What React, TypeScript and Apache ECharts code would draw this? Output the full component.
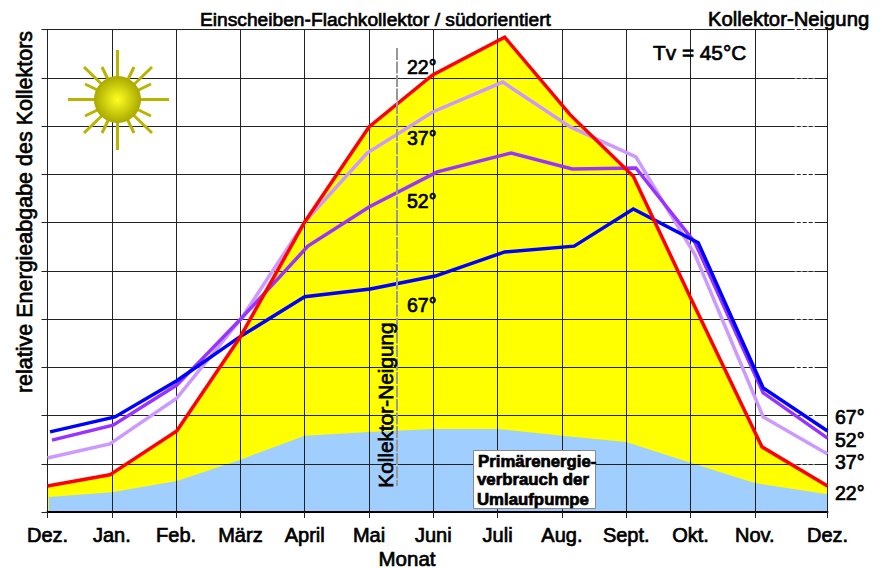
import React, { useEffect, useRef } from "react";
import * as echarts from "echarts";

const monthLabels = ["Dez.", "Jan.", "Feb.", "März", "April", "Mai", "Juni", "Juli", "Aug.", "Sept.", "Okt.", "Nov.", "Dez."];
const monthTicks = [0, 1, 2, 3, 4, 5, 6, 7, 8, 9, 10, 11, 12.13];

const x22 = [0, 0.97, 2.01, 2.99, 4, 5, 5.99, 7.11, 8.13, 9.11, 10, 11.11, 12.13];
const y22 = [5.4, 7.7, 16.8, 36.1, 60.1, 79.8, 90.6, 98.4, 82.3, 69.6, 44.4, 13.5, 5.4];
const x37 = [0, 0.97, 2.01, 3.02, 4, 4.97, 5.99, 7.08, 8.13, 9.15, 10.07, 11.13, 12.13];
const y37 = [11.2, 14.1, 23.6, 40.2, 60.1, 74.4, 82.9, 89.1, 79.8, 73.6, 53.3, 19.7, 12.0];
const x52 = [0.07, 1.02, 2.01, 3.02, 4.05, 5, 6.06, 7.21, 8.16, 9.15, 10.07, 11.13, 12.13];
const y52 = [14.9, 18.0, 26.3, 40.2, 55.1, 63.2, 70.5, 74.4, 71.1, 71.3, 55.8, 24.7, 15.3];
const x67 = [0.04, 1.05, 2.01, 2.99, 4, 5.02, 6.03, 7.11, 8.19, 9.11, 10.12, 11.13, 12.13];
const y67 = [16.6, 19.7, 27.2, 36.3, 44.6, 46.2, 48.9, 53.9, 55.1, 62.8, 55.8, 25.7, 16.8];
const xPump = [0.02, 1, 2.01, 2.99, 4, 5, 6, 7, 8, 9, 10, 11, 12.13];
const yPump = [3.1, 4.1, 6.4, 10.8, 15.8, 16.6, 17.2, 17.2, 15.8, 14.5, 10.2, 6.0, 3.7];

const gridRows = [10, 20, 30, 40, 50, 60, 70, 80, 90, 100];

const FONT = '"Liberation Sans", Arial, sans-serif';
const zip = (xs: number[], ys: number[]) => xs.map((x, i) => [x, ys[i]]);

function txt(text: string, x: number, y: number, size: number, extra: any = {}) {
  const { rotation, weight, align, ...rest } = extra;
  return {
    type: "text",
    x,
    y,
    rotation: rotation || 0,
    z: 20,
    style: {
      text,
      fill: "#000",
      font: `${weight || "normal"} ${size}px ${FONT}`,
      textAlign: align || "left",
      textVerticalAlign: "middle",
      stroke: "#000",
      lineWidth: 0.7,
      ...rest,
    },
  };
}

function sun() {
  const cx = 117.5;
  const cy = 99.5;
  const rays: [number, number, number, number][] = [
    [68, cy, 169, cy],
    [cx, 50, cx, 150],
    [84, 67, 152, 133],
    [84, 133, 152, 67],
    [102, 67, 134, 133],
    [134, 67, 102, 133],
    [85, 84, 151, 116],
    [85, 116, 151, 84],
  ];
  return [
    ...rays.map(([x1, y1, x2, y2]) => ({
      type: "line",
      z: 15,
      shape: { x1, y1, x2, y2 },
      style: { stroke: "#b8b400", lineWidth: 3 },
    })),
    {
      type: "circle",
      z: 16,
      shape: { cx, cy, r: 23.5 },
      style: {
        fill: new echarts.graphic.RadialGradient(0.5, 0.5, 0.5, [
          { offset: 0, color: "#ffff20" },
          { offset: 1, color: "#a8a800" },
        ]),
      },
    },
  ];
}

function buildOption(): any {
  const line = (name: string, xs: number[], ys: number[], color: string, width: number) => ({
    name,
    type: "line",
    data: zip(xs, ys),
    showSymbol: false,
    symbol: "none",
    z: 5,
    lineStyle: { color, width, join: "miter", cap: "butt" },
  });
  const area = (name: string, xs: number[], ys: number[], color: string, z: number) => ({
    name,
    type: "line",
    data: zip(xs, ys),
    showSymbol: false,
    symbol: "none",
    z,
    lineStyle: { width: 0 },
    areaStyle: { color, opacity: 1, origin: "start" },
  });
  const gapData: any[] = [];
  gridRows.forEach((r) => {
    gapData.push([11.62, r], [11.94, r], [null, null]);
  });
  return {
    animation: false,
    backgroundColor: "#fff",
    grid: { left: 47.5, right: 54.5, top: 29.5, bottom: 56, containLabel: false },
    xAxis: {
      type: "value",
      min: 0,
      max: 12.13,
      z: 3,
      axisLine: { show: true, onZero: false, lineStyle: { color: "#000", width: 2 } },
      axisTick: { show: true, length: 6, customValues: monthTicks, lineStyle: { color: "#222", width: 1 } },
      axisLabel: {
        customValues: monthTicks,
        hideOverlap: false,
        margin: 13,
        color: "#000",
        fontFamily: FONT,
        fontSize: 20,
        textBorderColor: "#000",
        textBorderWidth: 0.7,
        formatter: (v: number) => monthLabels[monthTicks.indexOf(v)] ?? "",
      },
      splitLine: { show: true, lineStyle: { color: "#222", width: 1 } },
    },
    yAxis: {
      type: "value",
      min: 0,
      max: 100,
      interval: 10,
      z: 3,
      axisLine: { show: true, lineStyle: { color: "#222", width: 1 } },
      axisTick: { show: true, length: 6, lineStyle: { color: "#222", width: 1 } },
      axisLabel: { show: false },
      splitLine: { show: true, lineStyle: { color: "#222", width: 1 } },
    },
    series: [
      area("22 Fläche", x22, y22, "#ffff00", 1),
      area("Primärenergieverbrauch", xPump, yPump, "#a0cfff", 2),
      {
        name: "Rasterlücken",
        type: "line",
        data: gapData,
        showSymbol: false,
        symbol: "none",
        connectNulls: false,
        z: 4,
        lineStyle: { color: "#fff", width: 1.5, type: [2, 4] },
      },
      line("37°", x37, y37, "#cc99ff", 3.5),
      line("52°", x52, y52, "#9933ff", 3.5),
      line("67°", x67, y67, "#0000ff", 3.5),
      line("22°", x22, y22, "#ff0000", 3.5),
    ],
    graphic: [
      ...sun(),
      {
        type: "line",
        z: 12,
        shape: { x1: 397, y1: 48, x2: 397, y2: 486 },
        style: { stroke: "#999", lineWidth: 2, lineDash: [12, 1.5] },
      },
      {
        type: "rect",
        z: 18,
        shape: { x: 473.5, y: 450.5, width: 122, height: 58 },
        style: { fill: "#fff", stroke: "#888", lineWidth: 1 },
      },
      txt("Primärenergie-", 478, 461, 16.8, { weight: "bold" }),
      txt("verbrauch der", 477, 479.5, 16.8, { weight: "bold" }),
      txt("Umlaufpumpe", 477, 499, 16.8, { weight: "bold" }),
      txt("Einscheiben-Flachkollektor / südorientiert", 200, 19, 19.2),
      txt("Kollektor-Neigung", 708, 19, 20.3),
      txt("Tv = 45°C", 653, 52, 20.8),
      txt("22°", 407, 67, 19.5),
      txt("37°", 407, 138, 19.5),
      txt("52°", 407, 201, 19.5),
      txt("67°", 407, 305, 19.5),
      txt("67°", 835, 417, 19.5),
      txt("52°", 835, 440, 19.5),
      txt("37°", 835, 462, 19.5),
      txt("22°", 835, 493, 19.5),
      txt("Monat", 407, 558, 20.5, { align: "center" }),
      txt("relative Energieabgabe des Kollektors", 25, 212, 21.5, { rotation: Math.PI / 2, align: "center" }),
      txt("Kollektor-Neigung", 385, 405, 20.8, { rotation: Math.PI / 2, align: "center" }),
    ],
  };
}

export default function App() {
  const ref = useRef<HTMLDivElement>(null);
  useEffect(() => {
    document.body.style.margin = "0";
    const chart = echarts.init(ref.current!, undefined, { renderer: "svg" });
    chart.setOption(buildOption());
    return () => chart.dispose();
  }, []);
  return <div ref={ref} style={{ width: 882, height: 568 }} />;
}
